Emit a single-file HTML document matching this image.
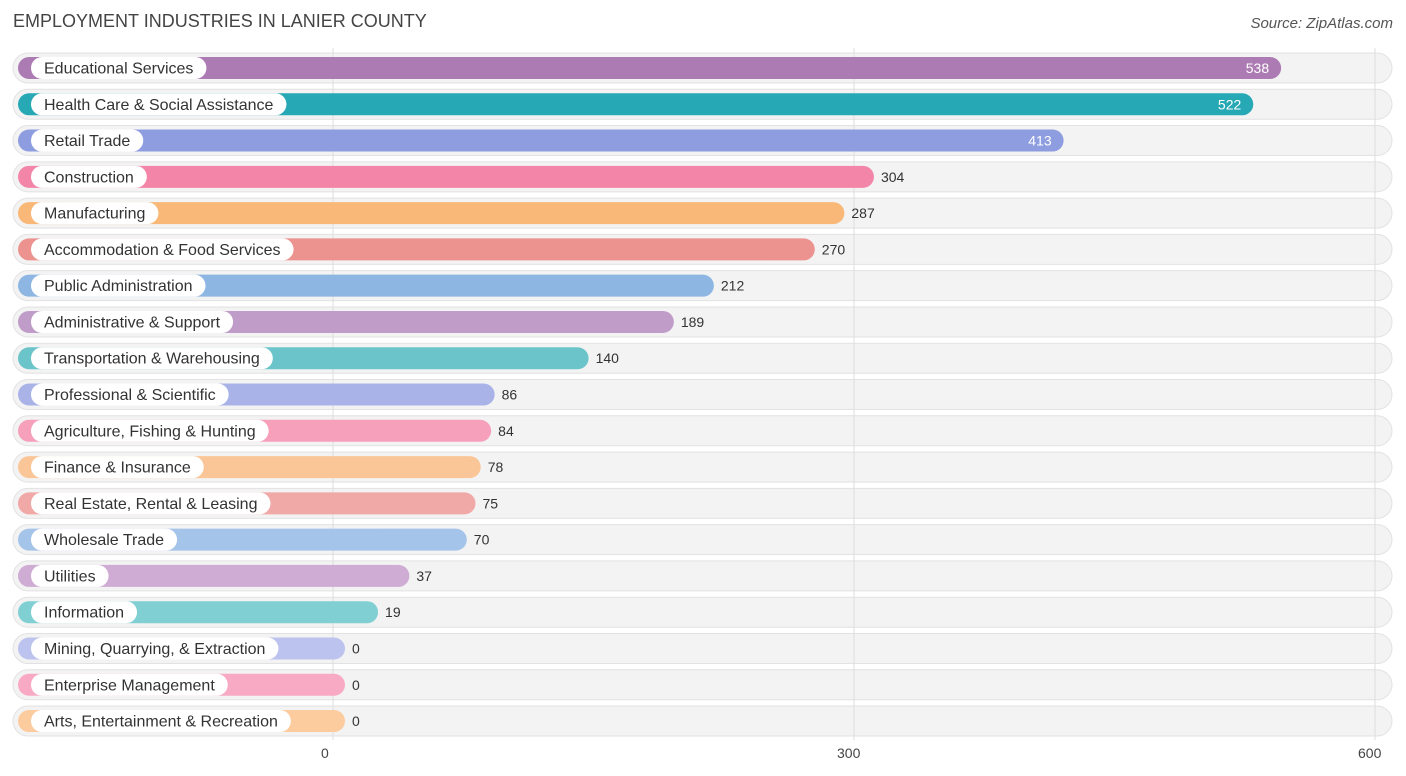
<!DOCTYPE html>
<html><head><meta charset="utf-8"><style>
body{margin:0;width:1406px;height:776px;background:#fff;font-family:"Liberation Sans",sans-serif;position:relative;overflow:hidden}
#title{position:absolute;left:13px;top:11px;font-size:18px;color:#444}
#src{position:absolute;right:13px;top:15px;font-size:15px;color:#555;font-style:italic}
svg{position:absolute;left:0;top:0}
</style></head><body>
<div id="title">EMPLOYMENT INDUSTRIES IN LANIER COUNTY</div>
<div id="src">Source: ZipAtlas.com</div>
<svg id="chart" width="1406" height="776"></svg>
<script>
const categories=["Educational Services","Health Care & Social Assistance","Retail Trade","Construction","Manufacturing","Accommodation & Food Services","Public Administration","Administrative & Support","Transportation & Warehousing","Professional & Scientific","Agriculture, Fishing & Hunting","Finance & Insurance","Real Estate, Rental & Leasing","Wholesale Trade","Utilities","Information","Mining, Quarrying, & Extraction","Enterprise Management","Arts, Entertainment & Recreation"];
const values=[538,522,413,304,287,270,212,189,140,86,84,78,75,70,37,19,0,0,0];
const colors=["#ad7bb3","#27a8b5","#8e9ce0","#f385a8","#f9b878","#ec9390","#8db6e3","#c09cc8","#6ac4c9","#aab3e8","#f6a0bc","#fbc697","#f0a9a6","#a5c4ea","#cfacd3","#7fcfd3","#bcc3ee","#f8aac4","#fccb9e"];
const ticks=[0,300,600];
const svg=document.getElementById('chart');const NS="http://www.w3.org/2000/svg";
function x(v){return 345+v*1.74;}
function gx(v){return 333+v*(1375-333)/600;}
function y(i){return 68+i*36.28;}
function mk(t,a,p){const e=document.createElementNS(NS,t);for(const k in a)e.setAttribute(k,a[k]);(p||svg).appendChild(e);return e;}
// rows bg
categories.forEach((c,i)=>{const r=mk('rect',{x:13,y:y(i)-15,width:1379,height:30,rx:15,fill:'#f3f3f3',stroke:'#e2e2e2'});

});
ticks.forEach(t=>{const l=mk('line',{x1:gx(t),x2:gx(t),y1:48,y2:740,stroke:'#ddd'});


const tx=mk('text',{x:gx(t)-(t==0?12:t==300?17:17),y:758,'font-size':14,fill:'#444'});tx.textContent=t;

});
categories.forEach((c,i)=>{const cy=y(i);const g=mk('g',{});


const xe=x(values[i]);
const b=mk('rect',{x:18,y:cy-11,width:xe-18,height:22,rx:11,fill:colors[i]},g);


const t=mk('text',{x:44,y:cy+5.5,'font-size':16,fill:'#333'},g);t.textContent=c;
const w=t.getComputedTextLength();
const p=mk('rect',{x:31,y:cy-11,width:w+26,height:22,rx:11,fill:'#fff'});g.insertBefore(p,t);




const inside=values[i]>400;
const v=mk('text',{x:inside?xe-12:xe+7,y:cy+5,'font-size':14,fill:inside?'#fff':'#333','text-anchor':inside?'end':'start'},g);v.textContent=values[i];

});
</script>
</body></html>
